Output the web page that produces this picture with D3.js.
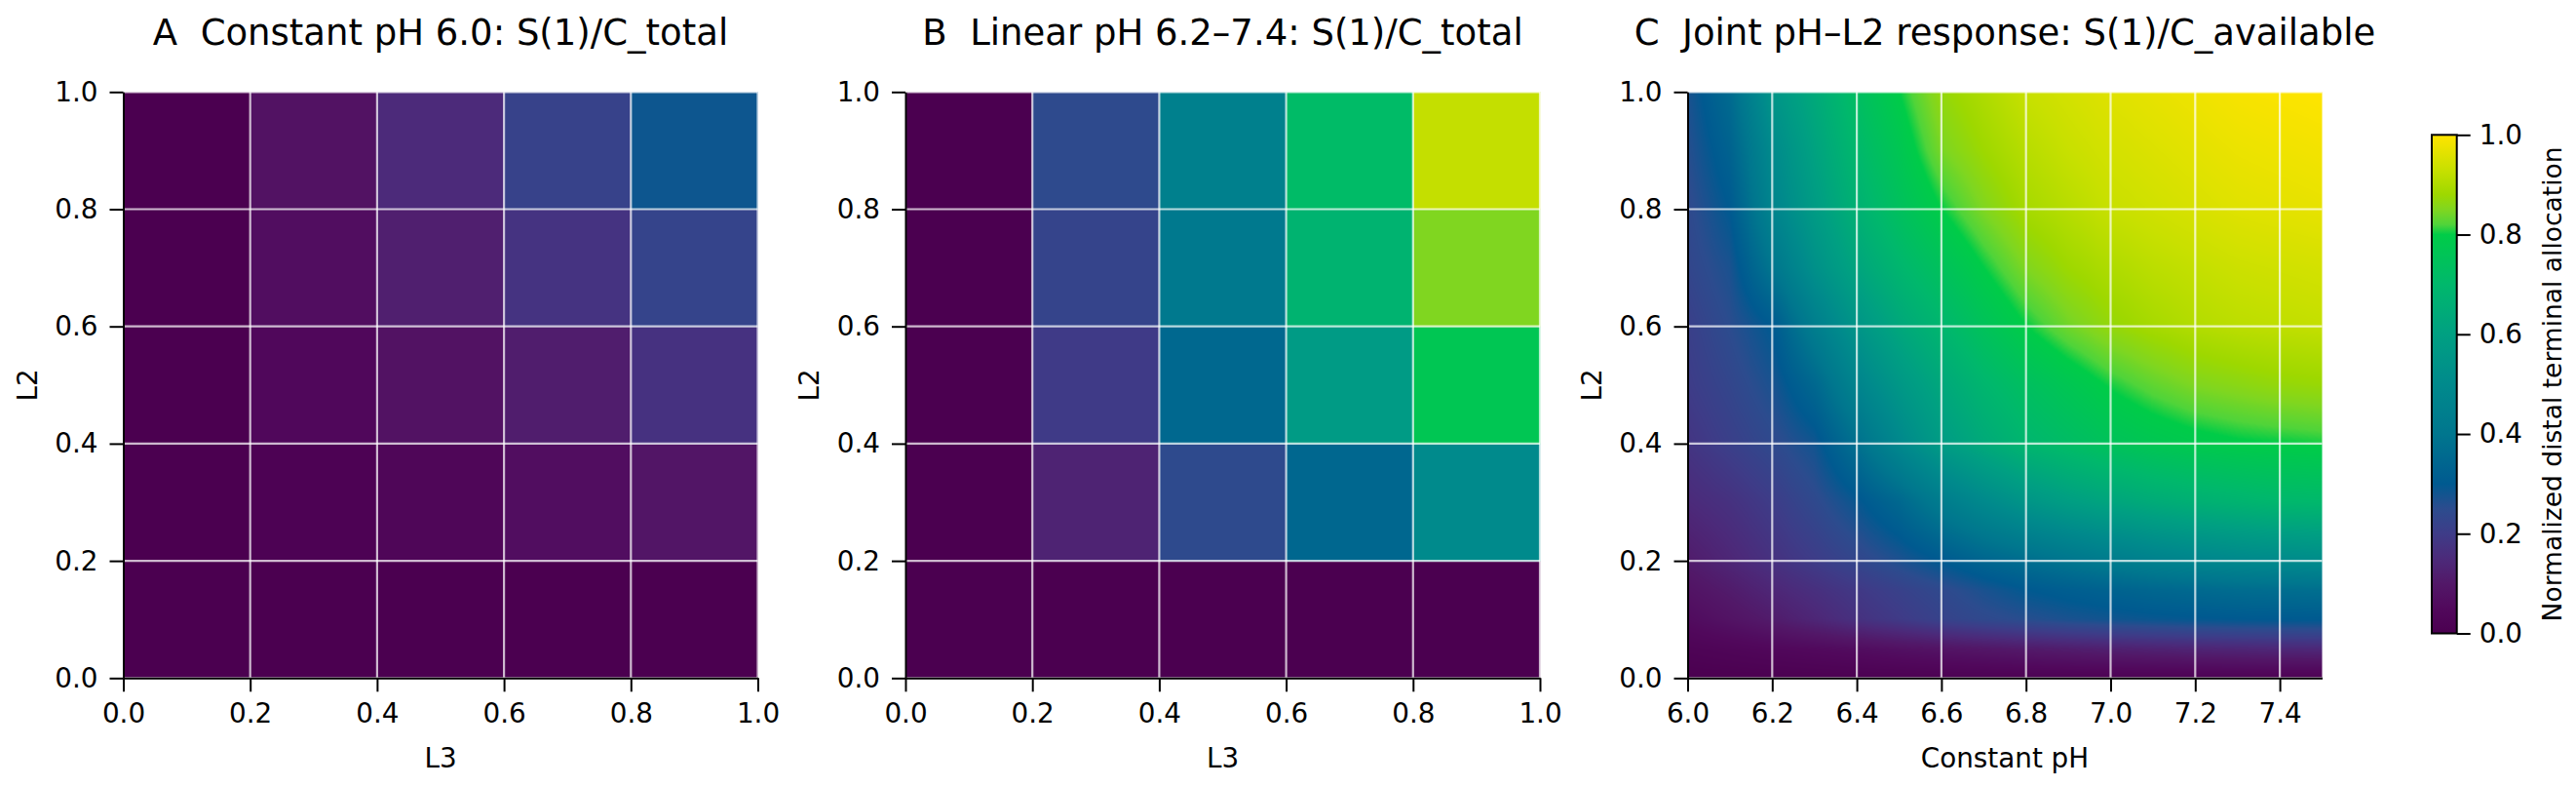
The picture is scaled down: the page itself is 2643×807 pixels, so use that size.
<!DOCTYPE html>
<html>
<head>
<meta charset="utf-8">
<script src="https://cdn.jsdelivr.net/npm/d3@7"></script>
<style>
  body { margin: 0; background: #fff; }
  text { font-family: "DejaVu Sans", sans-serif; fill: #000; }
</style>
</head>
<body>
<svg id="chart" width="2643" height="807"></svg>
<script>
// ---- data ----
// cell edges for panels A and B (L3 on x, L2 on y)
var cellEdges = [0, 0.2, 0.4, 0.6, 0.8, 1.0];
var unitTicks = [0, 0.2, 0.4, 0.6, 0.8, 1.0];

// rows from L2 0-0.2 (bottom) to 0.8-1.0 (top), columns L3 0-0.2 ... 0.8-1.0
var constantPH = [
  [0.00, 0.000, 0.000, 0.000, 0.000],
  [0.00, 0.015, 0.035, 0.065, 0.090],
  [0.00, 0.045, 0.080, 0.115, 0.170],
  [0.00, 0.065, 0.120, 0.175, 0.225],
  [0.00, 0.080, 0.150, 0.220, 0.285]
];
var linearPH = [
  [0.00, 0.000, 0.000, 0.000, 0.000],
  [0.00, 0.130, 0.245, 0.345, 0.500],
  [0.00, 0.195, 0.350, 0.575, 0.770],
  [0.00, 0.225, 0.415, 0.680, 0.850],
  [0.00, 0.245, 0.450, 0.715, 0.925]
];

// panel C: constant pH on x, L2 on y
var jointPH = [6.0, 6.1, 6.2, 6.3, 6.4, 6.5, 6.6, 6.7, 6.8, 6.9, 7.0, 7.1, 7.2, 7.3, 7.4, 7.5];
var jointL2 = [0, 0.05, 0.1, 0.15, 0.2, 0.3, 0.4, 0.5, 0.6, 0.7, 0.8, 0.9, 1.0];
var jointValues = [
  [0.000, 0.002, 0.004, 0.006, 0.008, 0.010, 0.012, 0.013, 0.014, 0.015, 0.016, 0.017, 0.018, 0.019, 0.020, 0.020],
  [0.025, 0.035, 0.045, 0.055, 0.065, 0.078, 0.088, 0.098, 0.108, 0.116, 0.124, 0.130, 0.136, 0.140, 0.144, 0.146],
  [0.060, 0.085, 0.110, 0.140, 0.170, 0.195, 0.220, 0.240, 0.255, 0.270, 0.280, 0.288, 0.294, 0.298, 0.300, 0.302],
  [0.085, 0.110, 0.140, 0.165, 0.190, 0.215, 0.240, 0.270, 0.298, 0.315, 0.330, 0.345, 0.355, 0.365, 0.370, 0.375],
  [0.110, 0.140, 0.170, 0.200, 0.230, 0.265, 0.300, 0.340, 0.370, 0.400, 0.430, 0.455, 0.475, 0.490, 0.500, 0.510],
  [0.150, 0.170, 0.200, 0.240, 0.290, 0.350, 0.430, 0.495, 0.550, 0.590, 0.620, 0.645, 0.665, 0.680, 0.695, 0.700],
  [0.180, 0.210, 0.240, 0.280, 0.380, 0.490, 0.580, 0.640, 0.690, 0.720, 0.750, 0.770, 0.785, 0.795, 0.800, 0.805],
  [0.200, 0.230, 0.270, 0.350, 0.470, 0.560, 0.630, 0.690, 0.735, 0.770, 0.805, 0.830, 0.850, 0.860, 0.870, 0.875],
  [0.210, 0.250, 0.300, 0.440, 0.550, 0.630, 0.690, 0.750, 0.800, 0.840, 0.870, 0.890, 0.905, 0.915, 0.920, 0.925],
  [0.230, 0.270, 0.400, 0.530, 0.620, 0.690, 0.745, 0.800, 0.850, 0.880, 0.900, 0.915, 0.925, 0.935, 0.940, 0.945],
  [0.240, 0.300, 0.470, 0.580, 0.670, 0.740, 0.800, 0.850, 0.890, 0.910, 0.930, 0.940, 0.950, 0.960, 0.965, 0.970],
  [0.255, 0.330, 0.500, 0.610, 0.700, 0.770, 0.845, 0.880, 0.910, 0.930, 0.945, 0.955, 0.965, 0.975, 0.980, 0.985],
  [0.270, 0.360, 0.550, 0.640, 0.730, 0.800, 0.870, 0.900, 0.930, 0.945, 0.960, 0.970, 0.980, 0.990, 0.995, 1.000]
];
var phTicks = [6.0, 6.2, 6.4, 6.6, 6.8, 7.0, 7.2, 7.4];

// colour map as seen on the colour bar
var cmapStops  = [0.00, 0.05, 0.10, 0.15, 0.20, 0.25, 0.30, 0.40, 0.50, 0.60, 0.70, 0.80, 0.82, 0.85, 0.88, 0.93, 1.00];
var cmapColors = ["#4b0050", "#51085c", "#521868", "#4c2a7a", "#3e3c88", "#2c4c8e", "#005a90", "#00768e",
                  "#008a8c", "#00a082", "#00b86c", "#00cc48", "#50d43a", "#80d620", "#9ed800", "#c8e000", "#ffe400"];

var titles = [
  "A  Constant pH 6.0: S(1)/C_total",
  "B  Linear pH 6.2\u20137.4: S(1)/C_total",
  "C  Joint pH\u2013L2 response: S(1)/C_available"
];

// ---- layout ----
var plotLefts = [126.5, 929, 1731.5];
var plotW = 651, plotTop = 94.3, plotH = 601;
var fontTick = 27.8, fontTitle = 37;

var color = d3.scaleLinear().domain(cmapStops).range(cmapColors)
  .interpolate(d3.interpolateRgb).clamp(true);

var svg = d3.select("#chart");
svg.append("rect").attr("width", 2643).attr("height", 807).attr("fill", "#fff");

function drawAxes(g, x, y, xTicks, xLabel) {
  // grid lines
  g.append("g").selectAll("line.vx").data(xTicks).enter().append("line")
    .attr("x1", (d) => x(d)).attr("x2", (d) => x(d))
    .attr("y1", 0).attr("y2", plotH)
    .attr("stroke", "#fff").attr("stroke-opacity", 0.72).attr("stroke-width", 2.2);
  g.append("g").selectAll("line.hy").data(unitTicks).enter().append("line")
    .attr("x1", 0).attr("x2", plotW)
    .attr("y1", (d) => y(d)).attr("y2", (d) => y(d))
    .attr("stroke", "#fff").attr("stroke-opacity", 0.72).attr("stroke-width", 2.2);

  var ax = g.append("g").attr("transform", "translate(0," + plotH + ")")
    .call(d3.axisBottom(x).tickValues(xTicks).tickFormat(d3.format(".1f"))
      .tickSize(14).tickSizeOuter(0).tickPadding(12));
  var ay = g.append("g")
    .call(d3.axisLeft(y).tickValues(unitTicks).tickFormat(d3.format(".1f"))
      .tickSize(14).tickSizeOuter(0).tickPadding(12));
  [ax, ay].forEach(function (a) {
    a.attr("font-family", null).attr("font-size", null);
    a.select(".domain").attr("stroke", "#000").attr("stroke-width", 2);
    a.selectAll(".tick line").attr("stroke", "#000").attr("stroke-width", 2);
    a.selectAll(".tick text").style("font-size", fontTick + "px").attr("fill", "#000");
  });

  g.append("text").attr("x", plotW / 2).attr("y", plotH + 92)
    .attr("text-anchor", "middle").style("font-size", fontTick + "px").text(xLabel);
  g.append("text").attr("transform", "translate(-89," + plotH / 2 + ") rotate(-90)")
    .attr("text-anchor", "middle").style("font-size", fontTick + "px").text("L2");
}

function drawTitle(g, i) {
  g.append("text").attr("x", plotW / 2).attr("y", 46 - plotTop)
    .attr("text-anchor", "middle").attr("xml:space", "preserve")
    .style("white-space", "pre").style("font-size", fontTitle + "px").text(titles[i]);
}

// ---- panels A and B: 5x5 cells ----
[constantPH, linearPH].forEach(function (grid, i) {
  var g = svg.append("g").attr("transform", "translate(" + plotLefts[i] + "," + plotTop + ")");
  var x = d3.scaleLinear().domain([0, 1]).range([0, plotW]);
  var y = d3.scaleLinear().domain([0, 1]).range([plotH, 0]);
  var cells = [];
  grid.forEach(function (row, r) {
    row.forEach(function (v, c) { cells.push({ r: r, c: c, v: v }); });
  });
  g.selectAll("rect.cell").data(cells).enter().append("rect")
    .attr("x", (d) => x(cellEdges[d.c]))
    .attr("y", (d) => y(cellEdges[d.r + 1]))
    .attr("width", (d) => x(cellEdges[d.c + 1]) - x(cellEdges[d.c]) + 0.5)
    .attr("height", (d) => y(cellEdges[d.r]) - y(cellEdges[d.r + 1]) + 0.5)
    .attr("fill", (d) => color(d.v));
  drawAxes(g, x, y, unitTicks, "L3");
  drawTitle(g, i);
});

// ---- panel C: smooth field ----
(function () {
  var g = svg.append("g").attr("transform", "translate(" + plotLefts[2] + "," + plotTop + ")");
  var x = d3.scaleLinear().domain([6.0, 7.5]).range([0, plotW]);
  var y = d3.scaleLinear().domain([0, 1]).range([plotH, 0]);

  // colour lookup table
  var lut = d3.range(1001).map(function (i) { return d3.rgb(color(i / 1000)); });

  function locate(arr, v) {
    var i = Math.min(Math.max(d3.bisectRight(arr, v) - 1, 0), arr.length - 2);
    var t = (v - arr[i]) / (arr[i + 1] - arr[i]);
    return [i, Math.min(Math.max(t, 0), 1)];
  }

  var W = Math.round(plotW), H = Math.round(plotH);
  var canvas = document.createElement("canvas");
  canvas.width = W; canvas.height = H;
  var ctx = canvas.getContext("2d");
  var img = ctx.createImageData(W, H);
  for (var py = 0; py < H; py++) {
    var ly = locate(jointL2, y.invert(py + 0.5));
    for (var px = 0; px < W; px++) {
      var lx = locate(jointPH, x.invert(px + 0.5));
      var r0 = jointValues[ly[0]], r1 = jointValues[ly[0] + 1];
      var a = r0[lx[0]] + (r0[lx[0] + 1] - r0[lx[0]]) * lx[1];
      var b = r1[lx[0]] + (r1[lx[0] + 1] - r1[lx[0]]) * lx[1];
      var v = a + (b - a) * ly[1];
      var c = lut[Math.round(Math.min(Math.max(v, 0), 1) * 1000)];
      var k = (py * W + px) * 4;
      img.data[k] = c.r; img.data[k + 1] = c.g; img.data[k + 2] = c.b; img.data[k + 3] = 255;
    }
  }
  ctx.putImageData(img, 0, 0);
  g.append("image").attr("href", canvas.toDataURL())
    .attr("x", 0).attr("y", 0).attr("width", plotW).attr("height", plotH)
    .attr("preserveAspectRatio", "none");

  drawAxes(g, x, y, phTicks, "Constant pH");
  drawTitle(g, 2);

  // ---- colour bar ----
  var cbX = 2495, cbW = 25.7, cbTop = 138.3, cbBottom = 649.5;
  var defs = svg.append("defs");
  var grad = defs.append("linearGradient").attr("id", "cbgrad")
    .attr("x1", 0).attr("y1", 1).attr("x2", 0).attr("y2", 0);
  grad.selectAll("stop").data(cmapStops).enter().append("stop")
    .attr("offset", (d) => d).attr("stop-color", (d, i) => cmapColors[i]);
  var cb = svg.append("g");
  cb.append("rect").attr("x", cbX).attr("y", cbTop).attr("width", cbW)
    .attr("height", cbBottom - cbTop).attr("fill", "url(#cbgrad)")
    .attr("stroke", "#000").attr("stroke-width", 2);
  var cbScale = d3.scaleLinear().domain([0, 1]).range([cbBottom, cbTop]);
  var cba = cb.append("g").attr("transform", "translate(" + (cbX + cbW) + ",0)")
    .call(d3.axisRight(cbScale).tickValues(unitTicks).tickFormat(d3.format(".1f"))
      .tickSize(14).tickSizeOuter(0).tickPadding(9));
  cba.attr("font-family", null).attr("font-size", null);
  cba.select(".domain").remove();
  cba.selectAll(".tick line").attr("stroke", "#000").attr("stroke-width", 2);
  cba.selectAll(".tick text").style("font-size", fontTick + "px").attr("fill", "#000");
  cb.append("text").attr("transform", "translate(2628," + (cbTop + cbBottom) / 2 + ") rotate(-90)")
    .attr("text-anchor", "middle").style("font-size", "26.5px")
    .text("Normalized distal terminal allocation");
})();
</script>
</body>
</html>
